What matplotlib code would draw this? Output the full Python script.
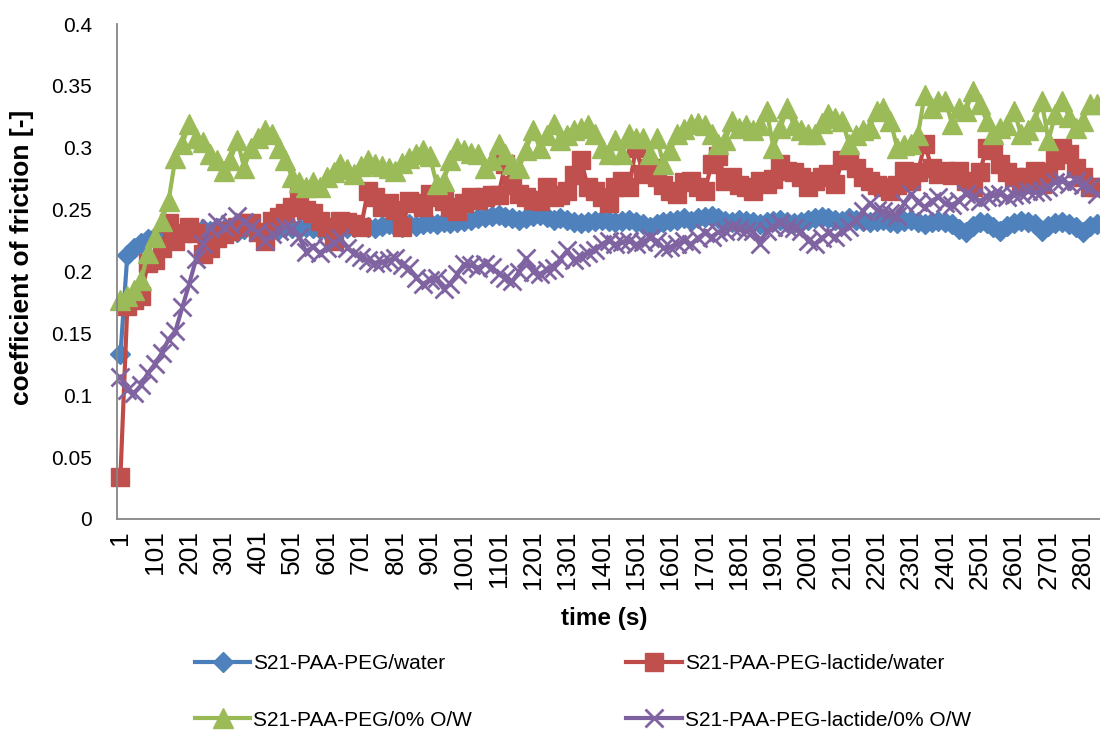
import numpy as np
import matplotlib.pyplot as plt
from matplotlib.font_manager import FontProperties

# friction readings taken every 20 s, category axis labelled every 100 s
time_s = np.arange(1, 2842, 20)
tick_labels = ['1', '101', '201', '301', '401', '501', '601', '701', '801', '901',
               '1001', '1101', '1201', '1301', '1401', '1501', '1601', '1701', '1801',
               '1901', '2001', '2101', '2201', '2301', '2401', '2501', '2601', '2701', '2801']
y_labels = ['0', '0.05', '0.1', '0.15', '0.2', '0.25', '0.3', '0.35', '0.4']

cof_peg_water = [
    0.133, 0.213, 0.219, 0.223, 0.226, 0.228, 0.230, 0.230, 0.232, 0.231,
    0.233, 0.232, 0.234, 0.233, 0.235, 0.234, 0.233, 0.232, 0.234, 0.235,
    0.233, 0.231, 0.233, 0.234, 0.236, 0.235, 0.234, 0.236, 0.235, 0.234,
    0.233, 0.235, 0.236, 0.235, 0.236, 0.237, 0.236, 0.235, 0.237, 0.238,
    0.237, 0.236, 0.238, 0.237, 0.238, 0.239, 0.238, 0.240, 0.239, 0.240,
    0.241, 0.242, 0.243, 0.244, 0.245, 0.246, 0.244, 0.243, 0.242, 0.243,
    0.245, 0.246, 0.244, 0.242, 0.243, 0.242, 0.240, 0.239, 0.240, 0.241,
    0.242, 0.241, 0.240, 0.241, 0.242, 0.240, 0.238, 0.236, 0.238, 0.240,
    0.241, 0.242, 0.243, 0.241, 0.243, 0.244, 0.245, 0.243, 0.241, 0.240,
    0.242, 0.241, 0.240, 0.238, 0.240, 0.241, 0.242, 0.240, 0.239, 0.240,
    0.242, 0.243, 0.244, 0.243, 0.242, 0.241, 0.243, 0.242, 0.241, 0.240,
    0.241, 0.242, 0.240, 0.239, 0.241, 0.242, 0.240, 0.238, 0.240, 0.241,
    0.240, 0.238, 0.234, 0.232, 0.237, 0.240, 0.239, 0.236, 0.233, 0.237,
    0.239, 0.241, 0.240, 0.238, 0.233, 0.237, 0.239, 0.240, 0.238, 0.236,
    0.232, 0.237, 0.238]

cof_lactide_water = [
    0.034, 0.172, 0.177, 0.180, 0.207, 0.209, 0.219, 0.239, 0.225, 0.231,
    0.236, 0.231, 0.214, 0.219, 0.227, 0.230, 0.233, 0.236, 0.239, 0.239,
    0.232, 0.225, 0.241, 0.244, 0.247, 0.252, 0.260, 0.250, 0.247, 0.241,
    0.236, 0.225, 0.241, 0.240, 0.238, 0.236, 0.265, 0.260, 0.252, 0.255,
    0.250, 0.236, 0.257, 0.255, 0.252, 0.263, 0.260, 0.257, 0.252, 0.249,
    0.255, 0.260, 0.258, 0.260, 0.262, 0.262, 0.287, 0.270, 0.263, 0.260,
    0.258, 0.257, 0.268, 0.260, 0.262, 0.265, 0.278, 0.290, 0.268, 0.265,
    0.260, 0.255, 0.268, 0.273, 0.268, 0.300, 0.279, 0.284, 0.276, 0.270,
    0.265, 0.263, 0.272, 0.273, 0.268, 0.265, 0.287, 0.293, 0.273, 0.276,
    0.270, 0.268, 0.265, 0.273, 0.271, 0.275, 0.287, 0.281, 0.280, 0.276,
    0.268, 0.273, 0.276, 0.279, 0.271, 0.290, 0.290, 0.284, 0.276, 0.273,
    0.270, 0.268, 0.265, 0.270, 0.281, 0.273, 0.280, 0.303, 0.284, 0.279,
    0.281, 0.278, 0.281, 0.273, 0.268, 0.280, 0.300, 0.298, 0.287, 0.280,
    0.276, 0.271, 0.276, 0.281, 0.271, 0.280, 0.290, 0.300, 0.295, 0.284,
    0.276, 0.268, 0.268]

cof_peg_ow = [
    0.177, 0.180, 0.185, 0.193, 0.215, 0.228, 0.241, 0.257, 0.292, 0.303,
    0.319, 0.308, 0.305, 0.295, 0.290, 0.281, 0.290, 0.306, 0.284, 0.300,
    0.308, 0.314, 0.311, 0.300, 0.290, 0.276, 0.272, 0.268, 0.272, 0.268,
    0.276, 0.280, 0.287, 0.283, 0.279, 0.285, 0.290, 0.287, 0.285, 0.284,
    0.281, 0.288, 0.292, 0.295, 0.298, 0.293, 0.271, 0.273, 0.290, 0.300,
    0.298, 0.296, 0.295, 0.284, 0.290, 0.303, 0.295, 0.287, 0.284, 0.298,
    0.314, 0.300, 0.310, 0.319, 0.306, 0.310, 0.314, 0.316, 0.318, 0.311,
    0.300, 0.295, 0.306, 0.295, 0.311, 0.308, 0.308, 0.295, 0.308, 0.287,
    0.298, 0.311, 0.315, 0.319, 0.320, 0.318, 0.311, 0.303, 0.306, 0.322,
    0.316, 0.318, 0.314, 0.318, 0.330, 0.300, 0.316, 0.332, 0.318, 0.314,
    0.311, 0.311, 0.320, 0.327, 0.324, 0.322, 0.303, 0.310, 0.314, 0.316,
    0.330, 0.332, 0.322, 0.300, 0.302, 0.303, 0.310, 0.343, 0.332, 0.338,
    0.338, 0.319, 0.332, 0.330, 0.346, 0.335, 0.322, 0.311, 0.316, 0.318,
    0.330, 0.311, 0.314, 0.322, 0.338, 0.306, 0.327, 0.338, 0.325, 0.316,
    0.322, 0.335, 0.335]

cof_lactide_ow = [
    0.115, 0.104, 0.102, 0.108, 0.118, 0.125, 0.134, 0.145, 0.152, 0.171,
    0.190, 0.210, 0.222, 0.235, 0.240, 0.236, 0.238, 0.245, 0.240, 0.236,
    0.232, 0.225, 0.230, 0.233, 0.236, 0.235, 0.228, 0.216, 0.220, 0.215,
    0.219, 0.223, 0.227, 0.219, 0.215, 0.212, 0.209, 0.207, 0.208, 0.209,
    0.211, 0.205, 0.203, 0.195, 0.190, 0.193, 0.195, 0.186, 0.190, 0.198,
    0.206, 0.205, 0.203, 0.206, 0.204, 0.198, 0.195, 0.192, 0.200, 0.211,
    0.200, 0.198, 0.201, 0.203, 0.210, 0.217, 0.209, 0.212, 0.215, 0.217,
    0.222, 0.225, 0.222, 0.224, 0.225, 0.222, 0.224, 0.227, 0.225, 0.219,
    0.220, 0.222, 0.225, 0.222, 0.227, 0.231, 0.228, 0.232, 0.233, 0.236,
    0.234, 0.233, 0.233, 0.222, 0.233, 0.236, 0.239, 0.236, 0.235, 0.233,
    0.225, 0.222, 0.227, 0.231, 0.228, 0.233, 0.236, 0.241, 0.249, 0.255,
    0.250, 0.249, 0.247, 0.245, 0.255, 0.263, 0.256, 0.252, 0.257, 0.260,
    0.255, 0.254, 0.257, 0.263, 0.260, 0.257, 0.260, 0.262, 0.263, 0.260,
    0.262, 0.263, 0.265, 0.264, 0.265, 0.268, 0.272, 0.273, 0.271, 0.273,
    0.270, 0.268, 0.263]

font = ['Liberation Sans', 'DejaVu Sans']

fig = plt.figure(figsize=(11, 7.38), dpi=100)
ax = fig.add_axes([117/1100, 219/738, 983/1100, 495/738])

x = np.arange(len(time_s))
l1, = ax.plot(x, cof_peg_water, color='#4A7EBB', lw=3, marker='D', ms=10,
              mfc='#4F81BD', mec='#4F81BD', clip_on=False, label='S21-PAA-PEG/water')
l2, = ax.plot(x, cof_lactide_water, color='#BE4B48', lw=3, marker='s', ms=13.5,
              mfc='#C0504D', mec='#C0504D', clip_on=False, label='S21-PAA-PEG-lactide/water')
l3, = ax.plot(x, cof_peg_ow, color='#98B954', lw=3, marker='^', ms=14,
              mfc='#9BBB59', mec='#9BBB59', clip_on=False, label='S21-PAA-PEG/0% O/W')
l4, = ax.plot(x, cof_lactide_ow, color='#7D60A0', lw=3, marker='x', ms=13, mew=2,
              mec='#8064A2', clip_on=False, label='S21-PAA-PEG-lactide/0% O/W')

ax.set_xlim(-0.5, len(time_s) - 0.5)
ax.set_ylim(0, 0.4)
ax.set_yticks(np.arange(0, 0.41, 0.05))
ax.set_yticklabels(y_labels, family=font, fontsize=15)
ax.set_xticks(x[::5])
ax.set_xticklabels(tick_labels, rotation=90, family=font, fontsize=19)
ax.tick_params(axis='y', length=0, pad=18)
ax.tick_params(axis='x', length=0, pad=8)

for side in ['top', 'right']:
    ax.spines[side].set_visible(False)
for side in ['left', 'bottom']:
    ax.spines[side].set_color('#868686')
    ax.spines[side].set_linewidth(1.3)

fig.text(22/1100, 1 - 257/738, 'coefficient of friction [-]', rotation=90,
         ha='center', va='center', fontsize=19, weight='bold', family=font)
fig.text(604/1100, 1 - 618/738, 'time (s)', ha='center', va='center',
         fontsize=17.5, weight='bold', family=font)

# entries laid out row by row: blue, red on the first row; green, purple below
fig.legend([l1, l3, l2, l4], [l.get_label() for l in (l1, l3, l2, l4)],
           loc='center left', bbox_to_anchor=(195/1100, 1 - 692/738), ncol=2,
           frameon=False, prop=FontProperties(family=font, size=15),
           borderpad=0, borderaxespad=0,
           handlelength=2.65, handletextpad=0.15, columnspacing=7.4,
           labelspacing=1.8, numpoints=1)

fig.savefig('out.png', dpi=100)
